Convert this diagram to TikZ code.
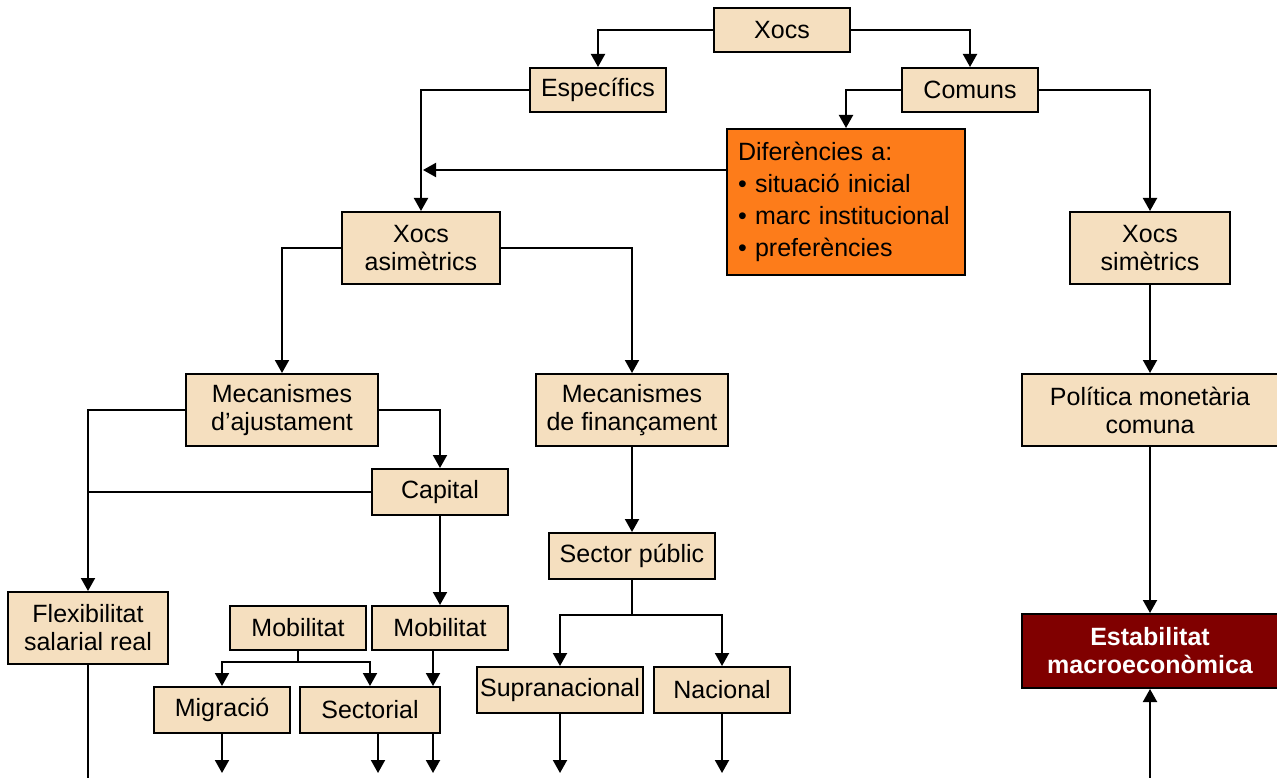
\documentclass[tikz,border=0pt]{standalone}
\usepackage{fontspec}
\setmainfont{Liberation Sans}
\usepackage{tikz}
\usepackage{xcolor}
\usetikzlibrary{arrows.meta}
\definecolor{beix}{RGB}{245,223,191}
\definecolor{taronja}{RGB}{253,124,26}
\definecolor{granat}{RGB}{128,0,0}

\begin{document}
\begin{tikzpicture}[x=1pt,y=-1pt,line width=2pt,>={Triangle[width=14pt,length=13pt]},
caixa/.style={draw,fill=beix,inner sep=1pt,align=center,font=\fontsize{25}{28}\selectfont},
dif/.style={draw,fill=taronja,inner xsep=11pt,align=left,text width=216pt,font=\fontsize{25}{32}\selectfont},
fita/.style={draw,fill=granat,text=white,inner sep=1pt,align=center,font=\bfseries\fontsize{25}{28}\selectfont}]
\useasboundingbox (0,0) rectangle (1277,778);
\node[caixa,minimum width=136,minimum height=44](xocs)at(782,30){Xocs};
\node[caixa,minimum width=136,minimum height=44](espec)at(598,90){Específics};
\node[caixa,minimum width=136,minimum height=44](comuns)at(970,90){Comuns};
\node[dif,minimum width=238,minimum height=146](difer)at(846,202){Diferències a:\\
• situació inicial\\
• marc institucional\\
• preferències};
\node[caixa,minimum width=158,minimum height=72](asim)at(421,248){Xocs\\asimètrics};
\node[caixa,minimum width=160,minimum height=72](sim)at(1150,248){Xocs\\simètrics};
\node[caixa,minimum width=192,minimum height=72](ajust)at(282,410){Mecanismes\\d’ajustament};
\node[caixa,minimum width=192,minimum height=72](finan)at(632,410){Mecanismes\\de finançament};
\node[caixa,minimum width=256,minimum height=72](polit)at(1150,410){Política monetària\\comuna};
\node[caixa,minimum width=136,minimum height=46](capital)at(440,492){Capital};
\node[caixa,minimum width=166,minimum height=46](sector)at(632,556){Sector públic};
\node[caixa,minimum width=160,minimum height=72](flex)at(88,628){Flexibilitat\\salarial real};
\node[caixa,minimum width=136,minimum height=44](mobA)at(298,628){Mobilitat};
\node[caixa,minimum width=136,minimum height=44](mobB)at(440,628){Mobilitat};
\node[caixa,minimum width=136,minimum height=46](migr)at(222,710){Migració};
\node[caixa,minimum width=140,minimum height=46](sect)at(370,710){Sectorial};
\node[caixa,minimum width=166,minimum height=46](supra)at(560,690){Supranacional};
\node[caixa,minimum width=136,minimum height=46](nac)at(722,690){Nacional};
\node[fita,minimum width=256,minimum height=74](estab)at(1150,651){Estabilitat\\macroeconòmica};
\coordinate (sj) at (632,615);
\coordinate (mj) at (298,662);
\coordinate (fo) at (88,778);
\coordinate (eo) at (1150,778);
\coordinate (mo1) at (222,773);
\coordinate (so1) at (378,773);
\coordinate (so2) at (433,773);
\coordinate (su1) at (560,773);
\coordinate (na1) at (722,773);
\draw[->](xocs.west)-|(espec.north);
\draw[->](xocs.east)-|(comuns.north);
\draw[->](comuns.west)-|(difer.north);
\draw[->](comuns.east)-|(sim.north);
\draw[->](espec.west)-|(asim.north);
\draw[->,shorten >=2pt]([yshift=32pt]difer.west)--([yshift=32pt]difer.west-|asim.north);
\draw[->](asim.west)-|(ajust.north);
\draw[->](asim.east)-|(finan.north);
\draw[->](sim)--(polit);
\draw[->](polit)--(estab);
\draw[->](eo)--(estab.south);
\draw[->](ajust.west)-|(flex.north);
\draw[->](ajust.east)-|(capital.north);
\draw(capital.west)--(capital.west-|flex.north);
\draw[->](capital)--(mobB);
\draw[->](finan)--(sector);
\draw(sector)--(sj);
\draw[->](sj)-|(supra.north);
\draw[->](sj)-|(nac.north);
\draw(mobA)--(mj);
\draw[->](mj)-|(migr.north);
\draw[->](mj)-|(sect.north);
\draw[->](mobB.south-|so2)--(sect.north-|so2);
\draw(flex)--(fo);
\draw[->](migr)--(mo1);
\draw[->](sect.south-|so1)--(so1);
\draw[->](sect.south-|so2)--(so2);
\draw[->](supra)--(su1);
\draw[->](nac)--(na1);
\end{tikzpicture}
\end{document}
